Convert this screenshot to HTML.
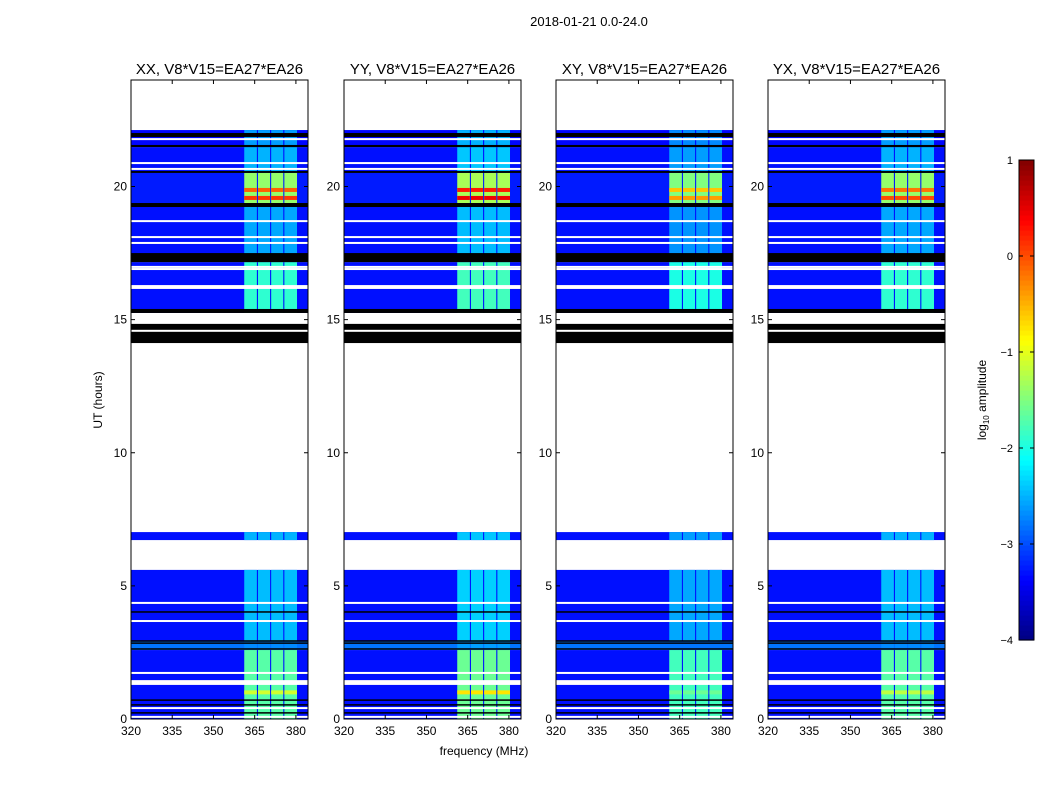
<!DOCTYPE html>
<html><head><meta charset="utf-8">
<style>
body{margin:0;background:#fff;}
svg{display:block;font-family:"Liberation Sans",sans-serif;}
</style></head>
<body>
<svg id="fig" width="1050" height="800" viewBox="0 0 1050 800" xmlns="http://www.w3.org/2000/svg">
<rect width="1050" height="800" fill="#fff"/>
<text x="589" y="26" font-size="13" text-anchor="middle">2018-01-21 0.0-24.0</text>
<text x="484" y="755" font-size="12" text-anchor="middle">frequency (MHz)</text>
<text x="102" y="400" font-size="12" text-anchor="middle" transform="rotate(-90 102 400)">UT (hours)</text>
<g id="panels"></g>
<g id="cbar"></g>
</svg>
<script>
const panelTitles = ["XX, V8*V15=EA27*EA26","YY, V8*V15=EA27*EA26","XY, V8*V15=EA27*EA26","YX, V8*V15=EA27*EA26"];
const panelBandOffset = [0, 0.1, -0.1, 0];
const panelHotOffset = [0, 0.35, -0.5, -0.1];
const xTicks = [320,335,350,365,380];
const yTicks = [0,5,10,15,20];
// data rows: [startHour, endHour, backgroundLog, bandLog]
const rowStart = [21.48,20.51,19.23,17.16,15.25,6.72,2.93,2.59,0];
const rowEnd   = [22.12,21.48,20.51,19.23,17.16,7.02,5.60,2.93,2.59];
const rowBg    = [-3.35,-3.3,-3.25,-3.3,-3.3,-3.3,-3.3,-2.8,-3.3];
const rowBand  = [-2.6,-2.5,-1.4,-2.55,-1.9,-2.5,-2.45,-2.7,-1.7];
// sub-band frequency ranges (MHz)
const bandLo = [361.2,366.2,371.0,375.8];
const bandHi = [365.8,370.6,375.4,380.4];
// hot (orange/red) lines: [hour, log amplitude]
const hotHour = [19.87,19.57,1.0];
const hotLevel = [-0.1,0.1,-1.1];
// flagged black bands
const blackStart = [21.86,21.48,20.51,19.23,17.16,15.25,14.12];
const blackEnd   = [22.01,21.56,20.58,19.38,17.50,15.40,14.84];
const blackLines = [4.02,2.93,2.85,2.63,0.71,0.53,0.23];
const whiteLines = [21.78,20.88,20.66,18.70,18.10,17.88,16.98,16.90,16.26,16.19,14.58,4.36,3.68,1.73,0.41,0.08];
const whiteGapStart = [1.28];
const whiteGapEnd = [1.46];
const cbTicks = [1,0,-1,-2,-3,-4];

const NS="http://www.w3.org/2000/svg";
function mk(tag,attrs,parent){const e=document.createElementNS(NS,tag);for(const k in attrs)e.setAttribute(k,attrs[k]);parent.appendChild(e);return e;}
function jet(L){let v=(L+4)/5;v=Math.max(0,Math.min(1,v));
 const c=x=>Math.round(255*Math.max(0,Math.min(1,x)));
 return `rgb(${c(1.5-Math.abs(4*v-3))},${c(1.5-Math.abs(4*v-2))},${c(1.5-Math.abs(4*v-1))})`;}

const panelX=[131,344,556,768], PW=177, PT=80, PB=719;
const fMin=320, fMax=384.4, hMin=0, hMax=24;
const panels=document.getElementById('panels');
panelX.forEach((x0,p)=>{
 const xs=f=>x0+(f-fMin)/(fMax-fMin)*PW;
 const ys=h=>PB-(h-hMin)/(hMax-hMin)*(PB-PT);
 const g=mk('g',{},panels);
 
 
 for(let i=0;i<rowStart.length;i++){
  const y1=ys(rowEnd[i]),y2=ys(rowStart[i]);
  const r=mk('rect',{x:x0,y:y1,width:PW,height:y2-y1,fill:jet(rowBg[i])},g);
  
  
  for(let b=0;b<bandLo.length;b++){
   const br=mk('rect',{x:xs(bandLo[b]),y:y1,width:xs(bandHi[b])-xs(bandLo[b]),height:y2-y1,fill:jet(rowBand[i]+panelBandOffset[p])},g);
   
   
  }
 }
 for(let i=0;i<hotHour.length;i++){
  for(let b=0;b<bandLo.length;b++){
   const hr=mk('rect',{x:xs(bandLo[b]),y:ys(hotHour[i])-2,width:xs(bandHi[b])-xs(bandLo[b]),height:4,fill:jet(hotLevel[i]+panelHotOffset[p])},g);
   
   
  }
 }
 for(let i=0;i<blackStart.length;i++){
  const y1=ys(blackEnd[i]),y2=ys(blackStart[i]);
  const r=mk('rect',{x:x0,y:y1,width:PW,height:y2-y1,fill:'#000'},g);
  
  
 }
 blackLines.forEach(h=>{const r=mk('rect',{x:x0,y:ys(h)-0.75,width:PW,height:1.5,fill:'#000'},g);
  
  });
 whiteLines.forEach(h=>{const r=mk('rect',{x:x0,y:ys(h)-1,width:PW,height:2,fill:'#fff'},g);
  
  });
 for(let i=0;i<whiteGapStart.length;i++){const r=mk('rect',{x:x0,y:ys(whiteGapEnd[i]),width:PW,height:ys(whiteGapStart[i])-ys(whiteGapEnd[i]),fill:'#fff'},g);
  
  }
 const fr=mk('rect',{x:x0,y:PT,width:PW,height:PB-PT,fill:'none',stroke:'#000','stroke-width':1},g);
 
 
 const t=mk('text',{x:x0+PW/2,y:74,'font-size':15,'text-anchor':'middle'},g);t.textContent=panelTitles[p];
 
 
 xTicks.forEach(v=>{const x=xs(v);
  mk('line',{x1:x,x2:x,y1:PB,y2:PB-4,stroke:'#000'},g);mk('line',{x1:x,x2:x,y1:PT,y2:PT+4,stroke:'#000'},g);
  const tx=mk('text',{x:x,y:PB+16,'font-size':12,'text-anchor':'middle'},g);tx.textContent=v;
  
  });
 yTicks.forEach(v=>{const y=ys(v);
  mk('line',{x1:x0,x2:x0+4,y1:y,y2:y,stroke:'#000'},g);mk('line',{x1:x0+PW,x2:x0+PW-4,y1:y,y2:y,stroke:'#000'},g);
  const ty=mk('text',{x:x0-4,y:y+4,'font-size':12,'text-anchor':'end'},g);ty.textContent=v;
  
  });
});
// colorbar
const cb=document.getElementById('cbar');
const cbX=1019,cbW=15,cbTop=160,cbBot=640;
const cys=L=>cbBot-(L+4)/5*(cbBot-cbTop);
for(let i=0;i<96;i++){const L0=-4+i*5/96;mk('rect',{x:cbX,y:cys(L0+5/96),width:cbW,height:(cbBot-cbTop)/96+0.6,fill:jet(L0+2.5/96)},cb);}
mk('rect',{x:cbX,y:cbTop,width:cbW,height:cbBot-cbTop,fill:'none',stroke:'#000'},cb);
cbTicks.forEach(v=>{const y=cys(v);mk('line',{x1:cbX,x2:cbX+4,y1:y,y2:y,stroke:'#000'},cb);mk('line',{x1:cbX+cbW,x2:cbX+cbW-4,y1:y,y2:y,stroke:'#000'},cb);
 const t=mk('text',{x:1013,y:y+4,'font-size':11,'text-anchor':'end'},cb);t.textContent=v<0?'\u2212'+(-v):v;
 
 });
const cl=mk('text',{x:986,y:400,'font-size':12,'text-anchor':'middle',transform:'rotate(-90 986 400)'},cb);
cl.innerHTML='log<tspan font-size="8" dy="3">10</tspan><tspan dy="-3"> amplitude</tspan>';


</script>
</body></html>
